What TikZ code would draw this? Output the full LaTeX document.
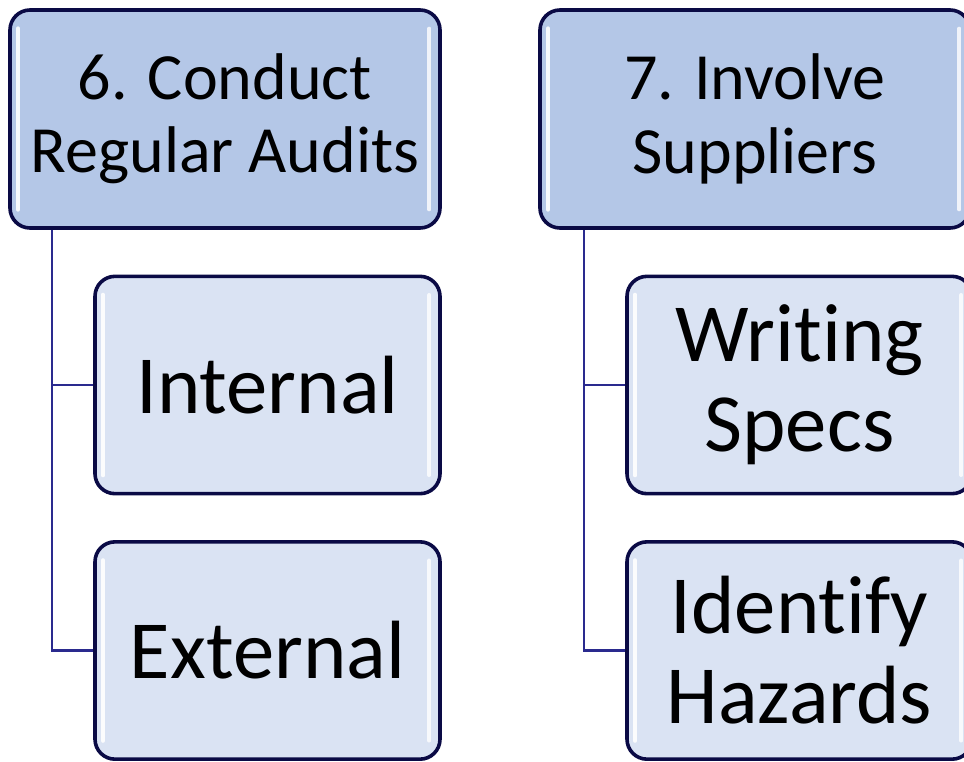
\documentclass[tikz,border=0pt]{standalone}
\usepackage{fontspec}
\setmainfont[RawFeature={-liga;-clig}]{Carlito}
\definecolor{headfill}{HTML}{B4C7E7}
\definecolor{childfill}{HTML}{DAE3F3}
\definecolor{boxline}{HTML}{0A0A45}
\definecolor{connline}{HTML}{2A2A8E}
\tikzset{
  gloss/.style={path picture={
    \draw[white, line width=3.5pt, line cap=round, opacity=0.9]
      ([xshift=6pt,yshift=-14pt]path picture bounding box.north west) --
      ([xshift=6pt,yshift=14pt]path picture bounding box.south west);
    \draw[white, line width=3pt, line cap=round, opacity=0.8]
      ([xshift=-8pt,yshift=-14pt]path picture bounding box.north east) --
      ([xshift=-8pt,yshift=14pt]path picture bounding box.south east);
  }},
  headbox/.style={draw=boxline, line width=2.7pt, rounded corners=15pt, fill=headfill,
    minimum width=322.5pt, minimum height=163.5pt, inner sep=0pt, align=center,
    font=\fontsize{49.5}{55}\selectfont, gloss},
  childbox/.style={draw=boxline, line width=2.7pt, rounded corners=15pt, fill=childfill,
    minimum width=258.75pt, minimum height=163pt, inner sep=0pt, align=center,
    font=\fontsize{62}{67.5}\selectfont, gloss},
  conn/.style={draw=connline, line width=1.6pt}
}
\begin{document}
\begin{tikzpicture}[x=0.75pt, y=-0.75pt]
\useasboundingbox (0,0) rectangle (964,761);
\fill[white] (0,0) rectangle (964,761);
% left column
\node[headbox] (p1) at (225,119) {6. Conduct\\Regular Audits};
\node[childbox] (c1) at (267.5,385) {Internal};
\node[childbox] (c2) at (267.5,650.5) {External};
\draw[conn] ([xshift=33pt]p1.south west) |- (c1.west);
\draw[conn] ([xshift=33pt]p1.south west) |- (c2.west);
% right column
\node[headbox] (p2) at (755,119) {7. Involve\\Suppliers};
\node[childbox] (d1) at (799.5,385) {Writing\\Specs};
\node[childbox] (d2) at (799.5,650.5) {Identify\\Hazards};
\draw[conn] ([xshift=34.5pt]p2.south west) |- (d1.west);
\draw[conn] ([xshift=34.5pt]p2.south west) |- (d2.west);
\end{tikzpicture}
\end{document}
